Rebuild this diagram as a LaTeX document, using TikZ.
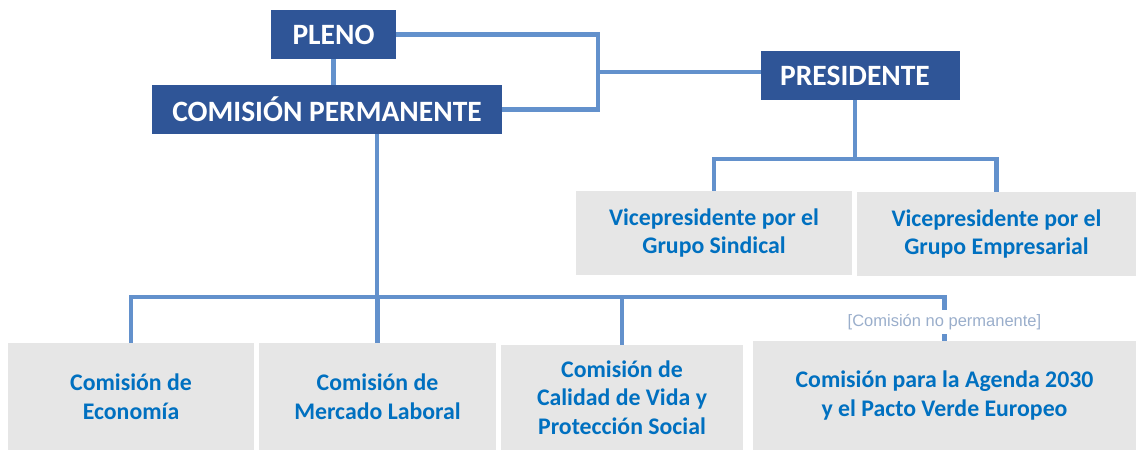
\documentclass[tikz,border=0pt]{standalone}
\usepackage{fontspec}
\setmainfont{Carlito}
\newfontfamily\labelfont{Liberation Sans}
\definecolor{darkbox}{HTML}{2F5597}
\definecolor{linkblue}{HTML}{6391CC}
\definecolor{txtblue}{HTML}{0070C0}
\definecolor{graybox}{HTML}{E6E6E6}
\definecolor{notegray}{HTML}{9AAECB}
\tikzset{
  headbox/.style={fill=darkbox, text=white, font=\fontsize{29.5}{31}\selectfont\bfseries, inner sep=0pt, anchor=center},
  unitbox/.style={fill=graybox, text=txtblue, font=\fontsize{23.8}{28.5}\selectfont\bfseries, align=center, inner sep=0pt, anchor=center},
  link/.style={draw=linkblue, line width=4.5pt},
}
\begin{document}
\begin{tikzpicture}[x=1pt,y=-1pt]
\useasboundingbox (0,0) rectangle (1138,450);
% head boxes
\node[headbox, minimum width=125, minimum height=49] (pleno) at (333.5,34.5) {PLENO};
\node[headbox, minimum width=350, minimum height=49] (cp) at (327,109.5) {COMISIÓN PERMANENTE};
\node[headbox, minimum width=188, minimum height=49] (pres) at (855,75.5) {PRESIDENTE};
\fill[darkbox] (pres.north east) rectangle (960,100);
% vice presidents
\node[unitbox, minimum width=276, minimum height=84] (vp1) at (714,233) {Vicepresidente por el\\Grupo Sindical};
\node[unitbox, minimum width=279, minimum height=84] (vp2) at (996.5,234) {Vicepresidente por el\\Grupo Empresarial};
% commissions
\node[unitbox, minimum width=246, minimum height=107] (eco) at (131,396.5) {Comisión de\\Economía};
\node[unitbox, minimum width=237, minimum height=107] (mer) at (377.5,396.5) {Comisión de\\Mercado Laboral};
\node[unitbox, minimum width=242, minimum height=105] (cal) at (622,397.5) {Comisión de\\Calidad de Vida y\\Protección Social};
\node[unitbox, minimum width=383, minimum height=109] (age) at (944.5,395.5) {Comisión para la Agenda 2030\\y el Pacto Verde Europeo};
\node[text=notegray, font=\labelfont\fontsize{16.5}{18}\selectfont, inner sep=0pt, minimum height=24, anchor=center] (note) at (944.5,322) {[Comisión no permanente]};
% junctions
\coordinate (j1) at (598,72);
\coordinate (bus) at (377,297);
\coordinate (vpbus) at (855,159);
% connectors
\draw[link] (pleno.south) -- (pleno.south |- cp.north);
\draw[link] (pleno.east) -| (j1) |- (cp.east);
\draw[link] (j1) -- (j1 -| pres.west);
\draw[link] (pres.south -| vpbus) -- (vpbus);
\draw[link] (vp1.north) |- (vpbus) -| (vp2.north);
\draw[link] (cp.south -| bus) -- (bus);
\draw[link] (eco.north) |- (bus) -| (note.north);
\draw[link] (mer.north) -- (mer.north |- bus);
\draw[link] (cal.north) -- (cal.north |- bus);
\draw[link] (note.south) -- (age.north);
\end{tikzpicture}
\end{document}
